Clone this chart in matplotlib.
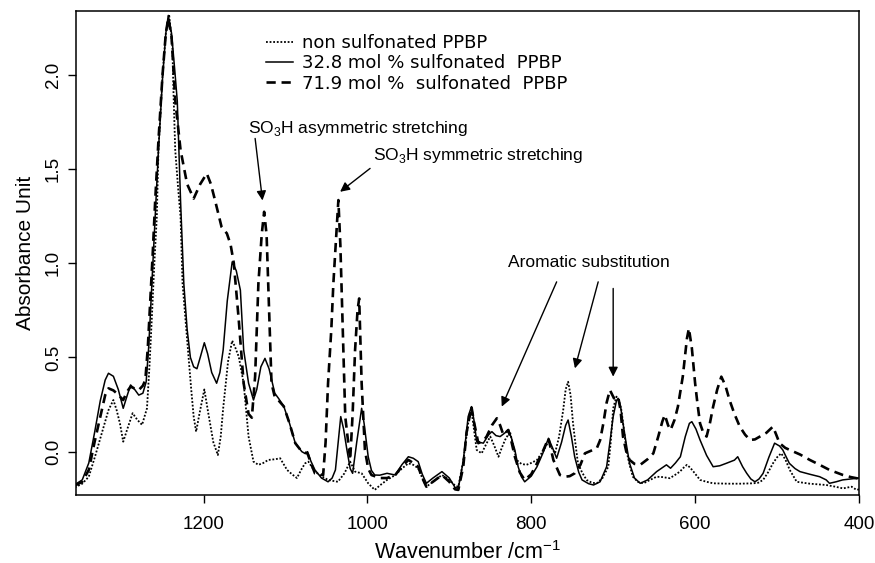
import numpy as np
import matplotlib
matplotlib.use("Agg")
import matplotlib.pyplot as plt

plt.rcParams['font.family'] = ['Liberation Sans', 'DejaVu Sans']
plt.rcParams['mathtext.fontset'] = 'custom'
plt.rcParams['mathtext.rm'] = 'Liberation Sans'

# 32.8 mol % sulfonated PPBP (solid)
wn_32 = [1357, 1348, 1340, 1333, 1326, 1320, 1316, 1310, 1304, 1298, 1293, 1289, 1284, 1279, 1274, 1270,
         1267, 1265, 1262, 1259, 1255, 1250, 1246, 1243, 1239, 1235, 1232, 1228, 1224, 1220, 1216, 1212,
         1208, 1204, 1199, 1195, 1190, 1184, 1180, 1176, 1171, 1165, 1160, 1155, 1151, 1145, 1139, 1135,
         1130, 1125, 1120, 1113, 1108, 1102, 1095, 1088, 1080, 1076, 1073, 1069, 1064, 1056, 1048, 1043,
         1039, 1035, 1032.5, 1029, 1025, 1021, 1018, 1013, 1007, 1004, 999, 995, 991, 985, 976, 966,
         958, 950, 944, 938, 933, 928, 920, 909, 900, 893, 889, 883, 877, 873, 870, 866.6,
         858.5, 852, 848, 843, 838, 832, 828, 824, 820, 816, 812, 808, 800, 793, 786, 779,
         774, 769, 763, 758, 755, 751, 747, 742, 738, 730, 724, 716, 708, 704, 700, 696,
         694, 691, 688, 684, 680, 674, 667, 658, 647, 640, 635, 630, 624, 618, 612, 607,
         604, 599, 594, 586, 578, 570, 562, 552, 548, 542, 537, 532, 527, 522, 517, 510,
         503, 497, 493, 485, 478, 472, 460, 448, 440, 436, 428, 420, 410, 403, 400]
ab_32 = [-0.175, -0.15, -0.06, 0.10, 0.27, 0.38, 0.416, 0.40, 0.33, 0.23, 0.30, 0.354, 0.33, 0.30, 0.31, 0.37,
         0.55, 0.716, 0.98, 1.246, 1.60, 1.98, 2.22, 2.315, 2.22, 2.02, 1.86, 1.33, 0.89, 0.65, 0.50, 0.45,
         0.44, 0.50, 0.578, 0.52, 0.42, 0.363, 0.42, 0.54, 0.80, 1.007, 0.96, 0.857, 0.54, 0.363, 0.274, 0.33,
         0.45, 0.495, 0.44, 0.31, 0.28, 0.24, 0.15, 0.045, 0.0, -0.01, 0.0, -0.05, -0.097, -0.14, -0.16, -0.14,
         -0.097, 0.08, 0.186, 0.12, 0.01, -0.09, -0.115, 0.05, 0.23, 0.15, -0.027, -0.10, -0.124, -0.125, -0.115, -0.124,
         -0.07, -0.027, -0.035, -0.053, -0.12, -0.168, -0.14, -0.106, -0.14, -0.19, -0.194, -0.05, 0.186, 0.239, 0.17, 0.053,
         0.045, 0.09, 0.106, 0.085, 0.08, 0.10, 0.115, 0.07, 0.009, -0.08, -0.133, -0.16, -0.13, -0.08, -0.01, 0.071,
         0.02, -0.035, 0.05, 0.14, 0.168, 0.08, -0.027, -0.11, -0.15, -0.17, -0.177, -0.16, -0.08, 0.05, 0.186, 0.27,
         0.283, 0.24, 0.15, 0.04, -0.062, -0.14, -0.168, -0.15, -0.106, -0.085, -0.07, -0.088, -0.06, -0.027, 0.08, 0.15,
         0.159, 0.12, 0.062, -0.02, -0.08, -0.075, -0.062, -0.045, -0.027, -0.08, -0.115, -0.145, -0.16, -0.145, -0.115, -0.03,
         0.045, 0.03, 0.009, -0.062, -0.09, -0.106, -0.12, -0.133, -0.15, -0.168, -0.16, -0.15, -0.145, -0.141, -0.14]

# 71.9 mol % sulfonated PPBP (dashed)
wn_72 = [1357, 1348, 1340, 1333, 1326, 1320, 1316, 1310, 1306, 1298, 1293, 1289, 1284, 1279, 1274, 1271,
         1268, 1265, 1262, 1259, 1255, 1250, 1246, 1243, 1239, 1234.5, 1231, 1228, 1220, 1212, 1204, 1196,
         1191, 1186, 1178, 1171.5, 1167, 1163, 1157, 1151, 1145, 1141, 1137, 1133, 1129, 1126, 1123, 1121,
         1117, 1113, 1108, 1102, 1095, 1088, 1080, 1073, 1069, 1064, 1054, 1051, 1048, 1044, 1041.5, 1038,
         1035.4, 1033, 1031, 1027, 1021, 1018, 1015, 1012, 1010, 1007, 1003, 999, 995, 985, 976, 966,
         958, 950, 944, 938, 933, 928, 920, 909, 900, 893, 889, 883, 879, 873, 870, 864.6,
         858, 854.5, 848, 842, 838, 834, 828, 824, 820, 814, 808, 800, 793, 786, 779, 773,
         765, 759, 753, 747, 740, 734.5, 727, 720, 716, 712, 708, 704, 699, 694, 691, 688,
         684, 680, 674, 667, 658, 651, 645, 640, 637, 633, 630, 625, 621, 615, 610, 607.6,
         604, 600, 597, 594, 590, 586, 582, 578, 573, 568, 563, 558, 552, 545.5, 539, 533,
         527, 521, 513, 505, 501, 497, 490, 484.5, 472, 460, 448, 436, 428, 419.5, 410, 403, 400]
ab_72 = [-0.18, -0.16, -0.097, 0.05, 0.186, 0.30, 0.336, 0.325, 0.31, 0.274, 0.32, 0.345, 0.335, 0.327, 0.35, 0.38,
         0.55, 0.80, 1.05, 1.33, 1.65, 2.0, 2.22, 2.30, 2.2, 1.865, 1.72, 1.60, 1.42, 1.343, 1.42, 1.476,
         1.42, 1.335, 1.193, 1.158, 1.10, 1.0, 0.70, 0.363, 0.20, 0.18, 0.40, 0.893, 1.15, 1.273, 1.15, 0.893,
         0.363, 0.29, 0.27, 0.24, 0.15, 0.045, 0.0, -0.01, -0.06, -0.115, -0.124, 0.05, 0.363, 0.65, 0.893, 1.15,
         1.335, 1.10, 0.80, 0.186, -0.044, 0.20, 0.54, 0.75, 0.813, 0.363, 0.009, -0.09, -0.124, -0.14, -0.14, -0.124,
         -0.08, -0.044, -0.06, -0.08, -0.14, -0.186, -0.16, -0.124, -0.16, -0.20, -0.203, -0.08, 0.10, 0.239, 0.16, 0.045,
         0.06, 0.08, 0.14, 0.177, 0.14, 0.089, 0.115, 0.05, -0.027, -0.11, -0.15, -0.12, -0.062, 0.0, 0.071, -0.044,
         -0.124, -0.133, -0.13, -0.115, -0.07, -0.009, 0.005, 0.018, 0.06, 0.15, 0.26, 0.327, 0.283, 0.292, 0.22, 0.08,
         0.0, -0.044, -0.065, -0.07, -0.04, -0.009, 0.08, 0.16, 0.195, 0.14, 0.115, 0.17, 0.239, 0.40, 0.60, 0.654,
         0.55, 0.363, 0.25, 0.15, 0.10, 0.08, 0.15, 0.239, 0.33, 0.398, 0.35, 0.274, 0.20, 0.133, 0.09, 0.062,
         0.065, 0.08, 0.10, 0.133, 0.09, 0.045, 0.02, 0.009, -0.015, -0.044, -0.07, -0.097, -0.11, -0.124, -0.135, -0.141, -0.145]

# non sulfonated PPBP (dotted)
wn_0 = [1357, 1348, 1340, 1332, 1324, 1316, 1310, 1306, 1302, 1298, 1293, 1286.5, 1281, 1275, 1269, 1266,
        1263, 1260, 1257, 1255, 1250, 1246, 1242, 1238, 1236.6, 1234.5, 1231, 1228, 1225.6, 1222, 1219, 1215,
        1212, 1209, 1205, 1199, 1194, 1188, 1182.5, 1179, 1176, 1170, 1165, 1161, 1157, 1151, 1145, 1139,
        1133, 1127, 1121, 1112, 1106.5, 1098, 1092, 1086, 1080, 1076, 1072, 1068, 1064, 1056, 1048, 1036,
        1028, 1021, 1015, 1007, 999, 991, 985, 976, 966, 958, 950, 944, 938, 933, 928, 920,
        909, 900, 893, 889, 883, 877, 873, 870, 866.6, 860.5, 855, 850, 845, 840, 836, 832,
        826, 822, 818, 812, 806, 800, 793, 786, 779, 775, 771, 766, 761, 758, 755, 752,
        749, 746, 743, 738, 732.5, 726, 720, 713, 706, 703, 700, 696, 693, 690, 687, 684,
        680, 676, 670, 663, 655, 647, 640, 631, 625, 618.6, 614, 610, 606, 602, 594, 586,
        578, 560, 545, 529, 523, 517, 511, 505, 500, 495, 490, 484.5, 476, 460, 440, 430,
        419.5, 409, 403, 400]
ab_0 = [-0.19, -0.17, -0.133, -0.02, 0.10, 0.22, 0.274, 0.22, 0.15, 0.053, 0.12, 0.204, 0.17, 0.142, 0.23, 0.45,
        0.716, 1.0, 1.246, 1.60, 2.0, 2.22, 2.32, 2.15, 1.90, 1.60, 1.40, 1.246, 0.893, 0.70, 0.54, 0.33,
        0.186, 0.106, 0.20, 0.33, 0.20, 0.05, -0.018, 0.08, 0.23, 0.48, 0.589, 0.55, 0.504, 0.363, 0.08, -0.053,
        -0.07, -0.06, -0.044, -0.04, -0.035, -0.097, -0.12, -0.14, -0.09, -0.062, -0.053, -0.08, -0.106, -0.13, -0.15, -0.16,
        -0.115, -0.053, -0.106, -0.115, -0.168, -0.203, -0.18, -0.15, -0.124, -0.09, -0.062, -0.07, -0.088, -0.14, -0.186, -0.16,
        -0.124, -0.15, -0.18, -0.186, -0.05, 0.15, 0.22, 0.12, 0.009, -0.009, 0.04, 0.08, 0.03, -0.027, 0.02, 0.062,
        0.106, 0.03, -0.044, -0.065, -0.07, -0.06, -0.044, 0.0, 0.053, 0.02, -0.009, 0.08, 0.221, 0.33, 0.371, 0.30,
        0.15, 0.04, -0.062, -0.11, -0.15, -0.165, -0.168, -0.14, -0.08, 0.05, 0.23, 0.292, 0.27, 0.221, 0.12, 0.009,
        -0.07, -0.133, -0.16, -0.168, -0.15, -0.133, -0.135, -0.141, -0.125, -0.106, -0.085, -0.07, -0.085, -0.106, -0.15, -0.16,
        -0.168, -0.17, -0.17, -0.168, -0.165, -0.15, -0.11, -0.062, -0.03, -0.009, -0.04, -0.097, -0.16, -0.17, -0.177, -0.185,
        -0.195, -0.186, -0.203, -0.20]

labels = ['non sulfonated PPBP', '32.8 mol % sulfonated  PPBP', '71.9 mol %  sulfonated  PPBP']
xticks = [1200, 1000, 800, 600, 400]
yticks = [0.0, 0.5, 1.0, 1.5, 2.0]

fig = plt.figure(figsize=(8.75, 5.63), dpi=100)
ax = fig.add_axes([0.0865, 0.1208, 0.8952, 0.8602])

l0, = ax.plot(wn_0, ab_0, color='black', lw=1.3, linestyle=(0, (1, 1)))
l32, = ax.plot(wn_32, ab_32, color='black', lw=1.1, linestyle='-')
l72, = ax.plot(wn_72, ab_72, color='black', lw=1.9, linestyle=(0, (3.5, 2.2)))

ax.set_xlim(1356, 400)
ax.set_ylim(-0.23, 2.34)
ax.set_xticks(xticks)
ax.set_yticks(yticks)
ax.set_yticklabels(['%.1f' % v for v in yticks])
ax.tick_params(direction='out', length=6, width=1, labelsize=13.5)
ax.tick_params(axis='x', pad=9)
ax.tick_params(axis='y', pad=4, labelrotation=90)
for t in ax.get_yticklabels():
    t.set_va('center')
for s in ax.spines.values():
    s.set_linewidth(1.1)

ax.set_xlabel('Wavenumber /cm$^{-1}$', fontsize=15.5, labelpad=6)
ax.set_ylabel('Absorbance Unit', fontsize=15, labelpad=7)

leg = ax.legend([l0, l32, l72], labels, loc='upper left', bbox_to_anchor=(0.222, 0.985),
                frameon=False, handlelength=1.5, handletextpad=0.5, labelspacing=0.12,
                prop={'family': 'DejaVu Sans', 'size': 13})

# annotations
arw = dict(arrowstyle='-|>', color='black', lw=1.0, mutation_scale=14, shrinkA=0, shrinkB=0)
ax.text(1145.5, 1.715, 'SO$_3$H asymmetric stretching', fontsize=12.5, ha='left', va='center')
ax.annotate('', xy=(1128, 1.333), xytext=(1137, 1.662), arrowprops=arw)
ax.text(993, 1.573, 'SO$_3$H symmetric stretching', fontsize=12.5, ha='left', va='center')
ax.annotate('', xy=(1033.3, 1.379), xytext=(996.7, 1.503), arrowprops=arw)
ax.text(828.4, 1.004, 'Aromatic substitution', fontsize=12.5, ha='left', va='center')
ax.annotate('', xy=(836, 0.239), xytext=(769, 0.901), arrowprops=arw)
ax.annotate('', xy=(746.7, 0.442), xytext=(718.3, 0.901), arrowprops=arw)
ax.annotate('', xy=(700, 0.398), xytext=(700, 0.866), arrowprops=arw)

fig.savefig('out.png', dpi=100)
